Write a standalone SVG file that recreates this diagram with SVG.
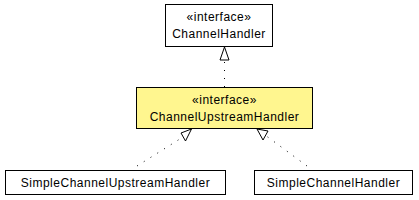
<svg xmlns="http://www.w3.org/2000/svg" width="419" height="200" viewBox="0 0 419 200">
<style>
.box{fill:#fff;stroke:#000;stroke-width:1}
.iface{fill:#fff68f;stroke:#000;stroke-width:1}
text{font-family:"Liberation Sans",Arial,sans-serif;font-size:12px;letter-spacing:0.5px;fill:#000;text-anchor:middle}
.dep{stroke:#000;stroke-width:1;stroke-dasharray:1,7;fill:none}
.head{fill:#fff;stroke:#000;stroke-width:1}
</style>
<rect width="419" height="200" fill="#fff"/>
<g id="connectors">
<line class="dep" x1="224.5" y1="87" x2="224.5" y2="60"/>
<polygon class="head" points="224.5,47 220,60 229,60"/>
<line class="dep" x1="137" y1="166" x2="183" y2="137"/>
<polygon class="head" points="191.5,129 181,133 185.5,141"/>
<line class="dep" x1="307" y1="166" x2="265" y2="135"/>
<polygon class="head" points="257,129 268,131 263,140"/>
</g>
<g id="ChannelHandler">
<rect class="box" x="165.5" y="4.5" width="107" height="42"/>
<text x="219" y="21">«interface»</text>
<text x="219" y="38">ChannelHandler</text>
</g>
<g id="ChannelUpstreamHandler">
<rect class="iface" x="136.5" y="87.5" width="176" height="41"/>
<text x="224.5" y="104">«interface»</text>
<text x="224.5" y="121">ChannelUpstreamHandler</text>
</g>
<g id="SimpleChannelUpstreamHandler">
<rect class="box" x="5.5" y="170.5" width="220" height="24"/>
<text x="115.5" y="187">SimpleChannelUpstreamHandler</text>
</g>
<g id="SimpleChannelHandler">
<rect class="box" x="254.5" y="170.5" width="158" height="24"/>
<text x="333.5" y="187">SimpleChannelHandler</text>
</g>
</svg>
